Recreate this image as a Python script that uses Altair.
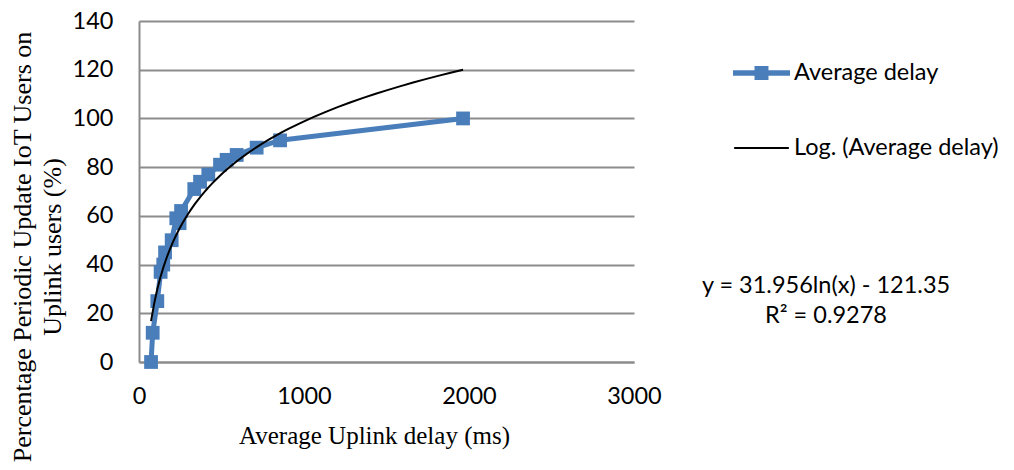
import altair as alt
import pandas as pd

# ---- data ----
delay_ms = [73, 83, 111, 131, 147, 158, 198, 226, 246, 255, 335, 370, 420, 491, 531, 592, 713, 855, 1964]
pct_users = [0, 12, 25, 37, 40, 45, 50, 59, 57, 62, 71, 74, 77, 81, 83, 85, 88, 91, 100]
series_names = ["Average delay", "Log. (Average delay)"]
x_ticks = [0, 1000, 2000, 3000]
y_ticks = [0, 20, 40, 60, 80, 100, 120, 140]
equation_lines = ["y = 31.956ln(x) - 121.35", "R² = 0.9278"]
y_title_lines = ["Percentage Periodic Update IoT Users on", "Uplink users (%)"]
x_title = "Average Uplink delay (ms)"

BLUE = "#4A7EBB"
GRID = "#8C8C8C"
SANS = "Lato"
SERIF = "Liberation Serif"

df = pd.DataFrame({"delay": delay_ms, "pct": pct_users})
legend_df = pd.DataFrame({"series": series_names})
eq_df = pd.DataFrame({"t": ["\n".join(equation_lines)]})

x_enc = alt.X(
    "delay:Q",
    scale=alt.Scale(domain=[0, 3000], nice=False),
    axis=alt.Axis(
        values=x_ticks,
        format="d",
        title=x_title,
        grid=False,
        ticks=False,
        tickSize=0,
        labelPadding=22,
        labelFont=SANS,
        labelFontSize=23.5,
        labelColor="black",
        domainColor=GRID,
        domainWidth=2,
        titleFont=SERIF,
        titleFontSize=25,
        titleFontWeight="normal",
        titleColor="black",
        titleX=235,
        titleY=81,
        titleAlign="center",
        titleBaseline="alphabetic",
        labelFlush=False,
    ),
)
y_enc = alt.Y(
    "pct:Q",
    scale=alt.Scale(domain=[0, 140], nice=False),
    axis=alt.Axis(
        values=y_ticks,
        format="d",
        title=None,
        grid=True,
        gridColor=GRID,
        gridWidth=2,
        ticks=False,
        tickSize=0,
        labelPadding=26,
        labelFont=SANS,
        labelFontSize=23.5,
        labelColor="black",
        domainColor=GRID,
        domainWidth=2,
        labelFlush=False,
    ),
)

base = alt.Chart(df)

line = base.mark_line(color=BLUE, strokeWidth=5, strokeJoin="round", strokeCap="round").encode(
    x=x_enc, y=y_enc
)
squares = base.mark_square(size=190, color=BLUE, opacity=1, filled=True).encode(x="delay:Q", y="pct:Q")
trend = (
    base.transform_regression("delay", "pct", method="log")
    .mark_line(color="black", strokeWidth=2)
    .encode(x="delay:Q", y="pct:Q")
)

path_avg = "M-1,-0.1H-0.245V-0.245H0.245V-0.1H1V0.1H0.245V0.245H-0.245V0.1H-1Z"
path_log = "M-0.96,-0.035H0.96V0.035H-0.96Z"

legend_cfg = alt.Legend(
    title=None,
    orient="none",
    legendX=594,
    legendY=23.5,
    symbolSize=3249,
    symbolOpacity=1,
    symbolStrokeWidth=0,
    rowPadding=35,
    padding=0,
    labelOffset=4,
    labelFont=SANS,
    labelFontSize=23.5,
    labelColor="black",
    labelLimit=400,
)

legend_layer = alt.Chart(legend_df).mark_point(filled=True, opacity=0).encode(
    color=alt.Color("series:N", scale=alt.Scale(domain=series_names, range=[BLUE, "black"]), legend=legend_cfg),
    shape=alt.Shape("series:N", scale=alt.Scale(domain=series_names, range=[path_avg, path_log]), legend=legend_cfg),
)

equation = alt.Chart(eq_df).mark_text(
    font=SANS, fontSize=23.5, color="black", align="center", baseline="middle",
    lineBreak="\n", lineHeight=30,
).encode(text="t:N", x=alt.value(687), y=alt.value(265))

# y-axis title, two rotated lines
ytitle1 = alt.Chart(pd.DataFrame({"t": [y_title_lines[0]]})).mark_text(
    font=SERIF, fontSize=26, color="black", angle=270, align="center", baseline="middle",
).encode(text="t:N", x=alt.value(-116.5), y=alt.value(226))
ytitle2 = alt.Chart(pd.DataFrame({"t": [y_title_lines[1]]})).mark_text(
    font=SERIF, fontSize=26, color="black", angle=270, align="center", baseline="middle",
).encode(text="t:N", x=alt.value(-86), y=alt.value(226))

chart = (
    alt.layer(line, squares, trend, legend_layer, equation, ytitle1, ytitle2)
    .properties(
        width=495,
        height=341,
        autosize=alt.AutoSizeParams(type="none"),
        padding={"left": 139, "top": 21, "right": 380, "bottom": 108},
        background="white",
    )
    .configure_view(strokeWidth=0)
)

chart.save("out.html", embed_options={"renderer": "svg", "actions": False})
